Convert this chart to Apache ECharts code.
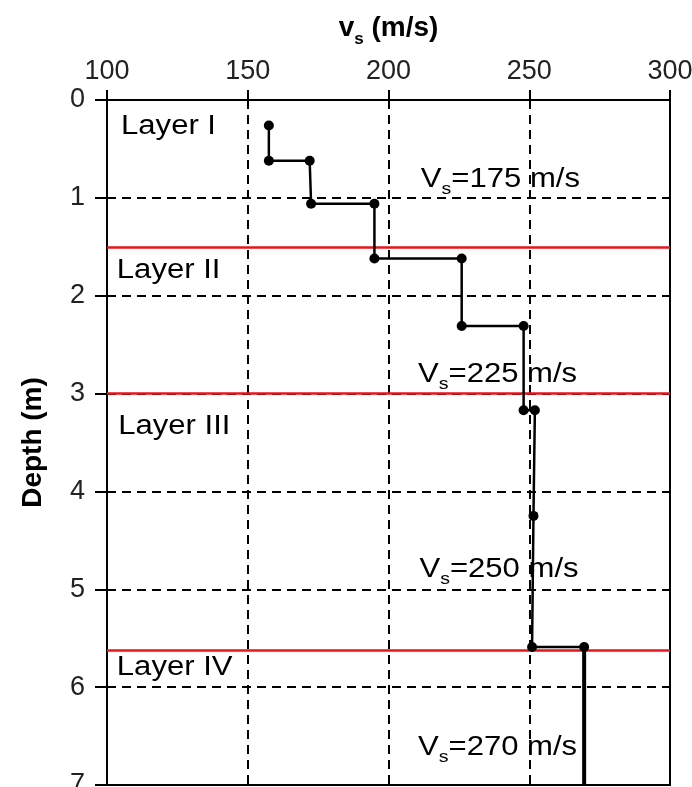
<!DOCTYPE html>
<html><head><meta charset="utf-8">
<script src="https://cdn.jsdelivr.net/npm/echarts@6/dist/echarts.min.js"></script>
<style>html,body{margin:0;padding:0;background:#fff}#c{width:692px;height:787px}</style>
</head><body><div id="c"></div>
<script>
// ---- data ----
const vsTicks = [100, 150, 200, 250, 300];
const depthTicks = [0, 1, 2, 3, 4, 5, 6, 7];
const profileVs    = [157.5, 157.5, 172, 172.5, 195, 195, 226, 226, 248, 248, 252, 251.5, 251, 269.5];
const profileDepth = [0.26, 0.62, 0.62, 1.06, 1.06, 1.62, 1.62, 2.31, 2.31, 3.17, 3.17, 4.25, 5.59, 5.59];
const halfspaceVs    = [269.5, 269.5];
const halfspaceDepth = [5.59, 7];
const layerBoundaries = [1.5, 3.0, 5.62];
const layerNames = ['Layer I', 'Layer II', 'Layer III', 'Layer IV'];
const layerNameVs    = [105, 103.5, 104, 103.5];
const layerNameDepth = [0.27, 1.74, 3.34, 5.8];
const layerVsValues = [175, 225, 250, 270];
const layerVsX      = [211.5, 210.5, 211, 210.5];
const layerVsDepth  = [0.84, 2.83, 4.82, 6.64];

// ---- chart ----
const FONT = 'Liberation Sans, Arial, sans-serif';
const chart = echarts.init(document.getElementById('c'), null, {renderer: 'canvas'});

const profileData = profileVs.map((v, i) => [v, profileDepth[i]]);
const halfData = halfspaceVs.map((v, i) => [v, halfspaceDepth[i]]);
const layerNameData = layerNames.map((n, i) => [layerNameVs[i], layerNameDepth[i]]);
const vsLabelData = layerVsValues.map((v, i) => [layerVsX[i], layerVsDepth[i]]);

const txtScale = 1.15;
const option = {
  animation: false,
  backgroundColor: '#fff',
  grid: {left: 107, right: 22, top: 100, bottom: 2, show: true, borderColor: '#000', borderWidth: 2,
         backgroundColor: 'transparent', containLabel: false, outerBoundsMode: 'none'},
  xAxis: {
    type: 'value', position: 'top', min: vsTicks[0], max: vsTicks[vsTicks.length - 1], interval: vsTicks[1] - vsTicks[0],
    name: '{v|v}{s|s}{v| (m/s)}', nameLocation: 'middle', nameGap: 52,
    nameTextStyle: {
      rich: {
        v: {fontSize: 28, fontWeight: 'bold', fontFamily: FONT, color: '#000', padding: [0, 0, 6, 0], verticalAlign: 'bottom'},
        s: {fontSize: 17, fontWeight: 'bold', fontFamily: FONT, color: '#000', verticalAlign: 'bottom'}
      }
    },
    axisLine: {show: true, lineStyle: {color: '#000', width: 2}},
    axisTick: {show: true, inside: false, length: 10, lineStyle: {color: '#000', width: 2}},
    axisLabel: {fontSize: 27, color: '#222', margin: 15, fontFamily: FONT},
    splitLine: {show: true, lineStyle: {color: '#000', type: [9, 6], width: 2}}
  },
  yAxis: {
    type: 'value', inverse: true, min: depthTicks[0], max: depthTicks[depthTicks.length - 1], interval: 1,
    name: 'Depth (m)', nameLocation: 'middle', nameGap: 60,
    nameTextStyle: {fontSize: 28, fontWeight: 'bold', fontFamily: FONT, color: '#000'},
    axisLine: {show: true, lineStyle: {color: '#000', width: 2}},
    axisTick: {show: true, inside: false, length: 12, lineStyle: {color: '#000', width: 2}},
    axisLabel: {fontSize: 27, color: '#222', margin: 22, fontFamily: FONT},
    splitLine: {show: true, lineStyle: {color: '#000', type: [9, 6], width: 2}}
  },
  series: [
    {
      type: 'line', data: profileData, symbol: 'circle', symbolSize: 10,
      itemStyle: {color: '#000'}, lineStyle: {color: '#000', width: 2.5}, z: 5,
      markLine: {
        symbol: 'none', silent: true, label: {show: false},
        lineStyle: {color: '#e8141b', width: 2.5, type: 'solid'},
        data: layerBoundaries.map(d => ({yAxis: d}))
      }
    },
    {
      type: 'line', data: halfData, symbol: 'none', clip: false,
      lineStyle: {color: '#000', width: 4}, z: 5
    },
    {
      type: 'custom', data: layerNameData, z: 6,
      renderItem: (params, api) => {
        const p = api.coord([api.value(0), api.value(1)]);
        return {type: 'text', x: p[0], y: p[1], scaleX: txtScale,
          style: {text: layerNames[params.dataIndex], fill: '#000', font: '27px ' + FONT, align: 'left', verticalAlign: 'middle'}};
      }
    },
    {
      type: 'custom', data: vsLabelData, z: 6,
      renderItem: (params, api) => {
        const p = api.coord([api.value(0), api.value(1)]);
        return {type: 'text', x: p[0], y: p[1], scaleX: txtScale,
          style: {
            text: '{v|V}{s|s}{v|=' + layerVsValues[params.dataIndex] + ' m/s}',
            align: 'left', verticalAlign: 'middle',
            rich: {
              v: {fontSize: 27, fontFamily: FONT, fill: '#000', padding: [0, 0, 5, 0], verticalAlign: 'bottom'},
              s: {fontSize: 17, fontFamily: FONT, fill: '#000', verticalAlign: 'bottom'}
            }
          }};
      }
    }
  ]
};
chart.setOption(option);
</script>
</body></html>
